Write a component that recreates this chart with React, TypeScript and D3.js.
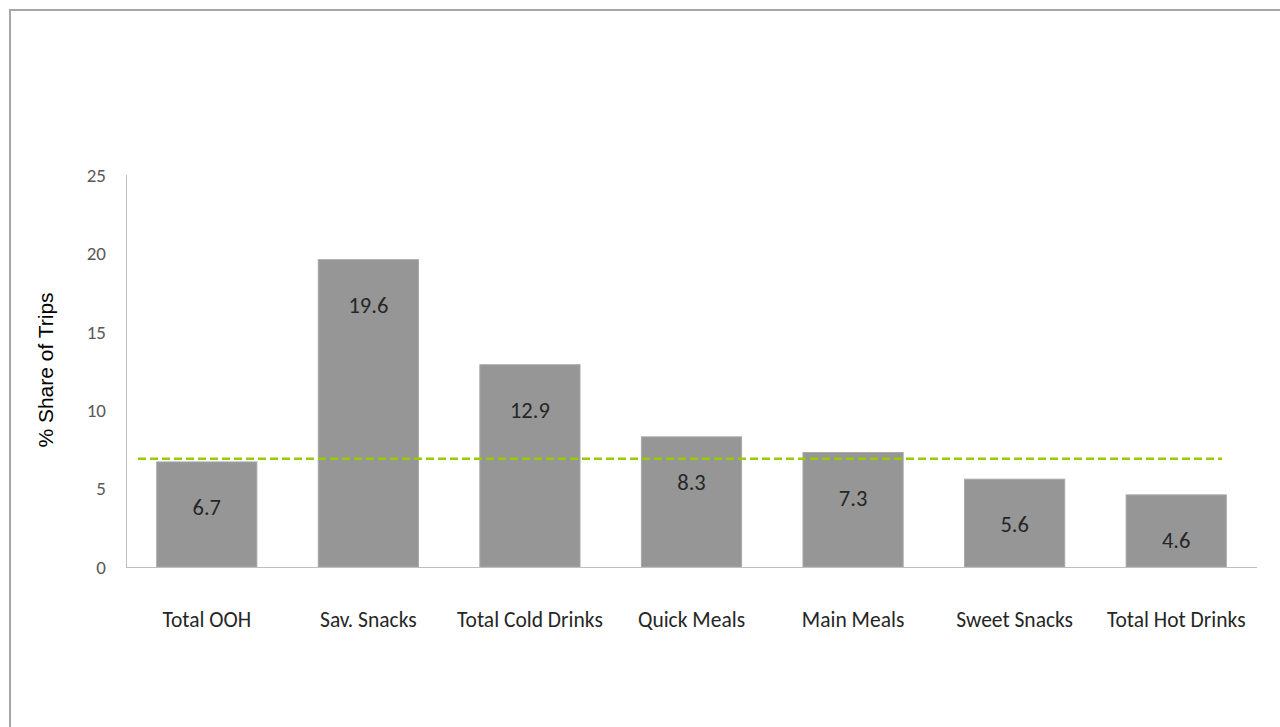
import React from "react";
import * as d3 from "d3";

const categories = ["Total OOH", "Sav. Snacks", "Total Cold Drinks", "Quick Meals", "Main Meals", "Sweet Snacks", "Total Hot Drinks"];
const values = [6.7, 19.6, 12.9, 8.3, 7.3, 5.6, 4.6];
const yTicks = [0, 5, 10, 15, 20, 25];
const averageLine = 6.9;
const yTitle = "% Share of Trips";

const W = 1280;
const H = 727;
const left = 126;
const right = 1257;
const top = 175;
const bottom = 567;

export default function App() {
  const x = d3.scaleBand<string>().domain(categories).range([left, right]).paddingInner(0.38).paddingOuter(0.19);
  const y = d3.scaleLinear().domain([0, 25]).range([bottom, top]);
  const labelFont = "Carlito, Calibri, 'Open Sans', sans-serif";

  return (
    <svg width={W} height={H} style={{ position: "absolute", left: 0, top: 0, background: "#fff" }}>
      <rect x={10} y={10} width={W + 20} height={H + 40} fill="#fff" stroke="#a6a6a6" strokeWidth={2} />
      {/* y axis */}
      <line x1={left + 0.5} x2={left + 0.5} y1={top} y2={bottom} stroke="#bfbfbf" strokeWidth={1} />
      {yTicks.map((t) => (
        <text key={t} x={106} y={y(t)} dy="0.36em" textAnchor="end" fontSize={19} fill="#595959" fontFamily={labelFont}>
          {t}
        </text>
      ))}
      <text
        transform={`translate(${53},${370}) rotate(-90)`}
        textAnchor="middle"
        fontSize={21}
        fill="#000"
        fontFamily="'Liberation Sans', Arial, sans-serif"
      >
        {yTitle}
      </text>
      {/* bars */}
      {categories.map((c, i) => (
        <g key={c}>
          <rect x={x(c)} y={y(values[i])} width={x.bandwidth()} height={bottom - y(values[i])} fill="#969696" stroke="#a8a8a8" strokeWidth={1} />
          <text
            x={(x(c) as number) + x.bandwidth() / 2}
            y={y(values[i]) + 45}
            dy="0.36em"
            textAnchor="middle"
            fontSize={22.5}
            fill="#262626"
            fontFamily={labelFont}
          >
            {values[i]}
          </text>
          <text
            x={(x(c) as number) + x.bandwidth() / 2}
            y={627}
            textAnchor="middle"
            fontSize={21.5}
            fill="#262626"
            fontFamily={labelFont}
          >
            {c}
          </text>
        </g>
      ))}
      {/* baseline */}
      <line x1={left} x2={right} y1={bottom + 0.5} y2={bottom + 0.5} stroke="#bfbfbf" strokeWidth={1} />
      {/* average dashed line */}
      <line
        x1={138}
        x2={1222}
        y1={y(averageLine)}
        y2={y(averageLine)}
        stroke="#99cc00"
        strokeWidth={2.5}
        strokeDasharray="8 4"
      />
    </svg>
  );
}
